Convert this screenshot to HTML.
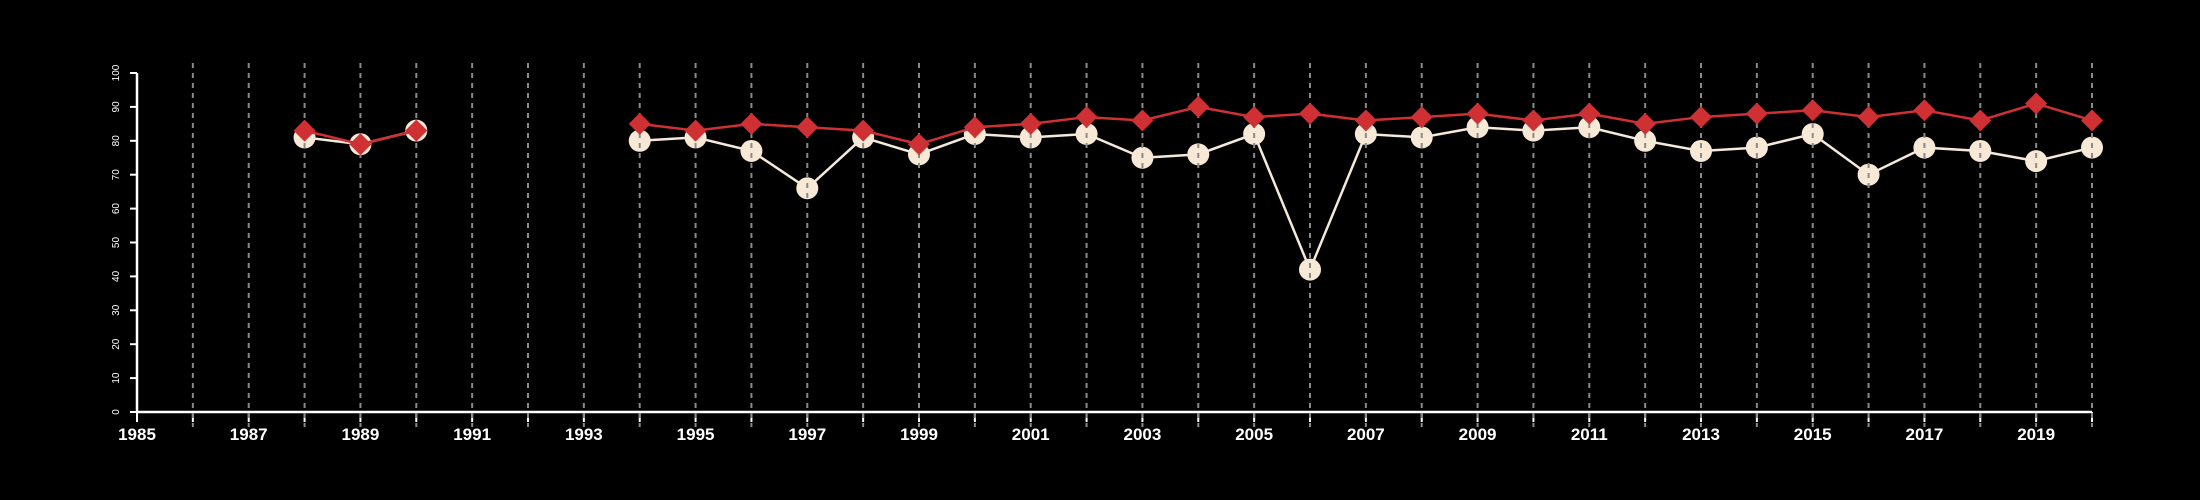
<!DOCTYPE html>
<html><head><meta charset="utf-8"><style>
html,body{margin:0;padding:0;background:#000;}
svg{display:block;font-family:"Liberation Sans",sans-serif;}
</style></head><body>
<svg id="chart" width="2200" height="500" viewBox="0 0 2200 500" xmlns="http://www.w3.org/2000/svg">
<rect width="2200" height="500" fill="#000"/>
<g id="grid"></g><g id="axes"></g><g id="series"></g>
</svg>
<script>
const years = [1988,1989,1990,1994,1995,1996,1997,1998,1999,2000,2001,2002,2003,2004,2005,2006,2007,2008,2009,2010,2011,2012,2013,2014,2015,2016,2017,2018,2019,2020];
const whiteSeries = [81,79,83,80,81,77,66,81,76,82,81,82,75,76,82,42,82,81,84,83,84,80,77,78,82,70,78,77,74,78];
const redSeries = [83,79,83,85,83,85,84,83,79,84,85,87,86,90,87,88,86,87,88,86,88,85,87,88,89,87,89,86,91,86];
const yTicks = [0,10,20,30,40,50,60,70,80,90,100];
const xLabels = [1985,1987,1989,1991,1993,1995,1997,1999,2001,2003,2005,2007,2009,2011,2013,2015,2017,2019];

const NS="http://www.w3.org/2000/svg";
const x = yr => 137 + (yr-1985)*(2092-137)/35;
const y = v => 412 - v*(412-73)/100;
function mk(tag, attrs, parent){const e=document.createElementNS(NS,tag);for(const k in attrs)e.setAttribute(k,attrs[k]);parent.appendChild(e);return e;}
const grid=document.getElementById('grid'), axes=document.getElementById('axes'), series=document.getElementById('series');

// axes
let ax=mk('line',{x1:137,y1:412,x2:2092,y2:412,stroke:'#fff','stroke-width':2.5},axes);


let ay=mk('line',{x1:137,y1:73,x2:137,y2:412,stroke:'#fff','stroke-width':2.5},axes);


for(let yr=1985; yr<=2020; yr++){
  mk('line',{x1:x(yr),y1:412,x2:x(yr),y2:422,stroke:'#fff','stroke-width':2},axes);
}
xLabels.forEach(l=>{
  const t=mk('text',{x:x(l),y:440,fill:'#fff','font-size':17,'font-weight':'bold','text-anchor':'middle'},axes);
  t.textContent=l;
  
  
});
yTicks.forEach(v=>{
  mk('line',{x1:130,y1:y(v),x2:137,y2:y(v),stroke:'#fff','stroke-width':2},axes);
  const t=mk('text',{x:0,y:0,fill:'#fff','font-size':10,'text-anchor':'middle',transform:`translate(119 ${y(v)}) rotate(-90)`},axes);
  t.textContent=v;
  
  
});

// segments (break at gaps)
function segs(vals){const out=[];let cur=[];years.forEach((yr,i)=>{if(i>0&&yr-years[i-1]>1){out.push(cur);cur=[];}cur.push([x(yr),y(vals[i])]);});out.push(cur);return out;}
segs(whiteSeries).forEach(s=>{
  const p=mk('polyline',{points:s.map(q=>q.join(',')).join(' '),fill:'none',stroke:'#f5e9da','stroke-width':2.5},series);
  
  
});
years.forEach((yr,i)=>{
  const c=mk('circle',{cx:x(yr),cy:y(whiteSeries[i]),r:11,fill:'#f8e8d6'},series);
  
  
});
// gridlines over circles
for(let yr=1986; yr<=2020; yr++){
  const g=mk('line',{x1:x(yr),y1:63,x2:x(yr),y2:427,stroke:'#8a8a8a','stroke-width':2,'stroke-dasharray':'5,5'},series);
  
  
}
segs(redSeries).forEach(s=>{
  const p=mk('polyline',{points:s.map(q=>q.join(',')).join(' '),fill:'none',stroke:'#cf3033','stroke-width':2.5},series);
  
  
});
years.forEach((yr,i)=>{
  const cx=x(yr), cy=y(redSeries[i]), d=11;
  const p=mk('polygon',{points:`${cx},${cy-d} ${cx+d},${cy} ${cx},${cy+d} ${cx-d},${cy}`,fill:'#cf3033'},series);
  
  
});
</script>
</body></html>
